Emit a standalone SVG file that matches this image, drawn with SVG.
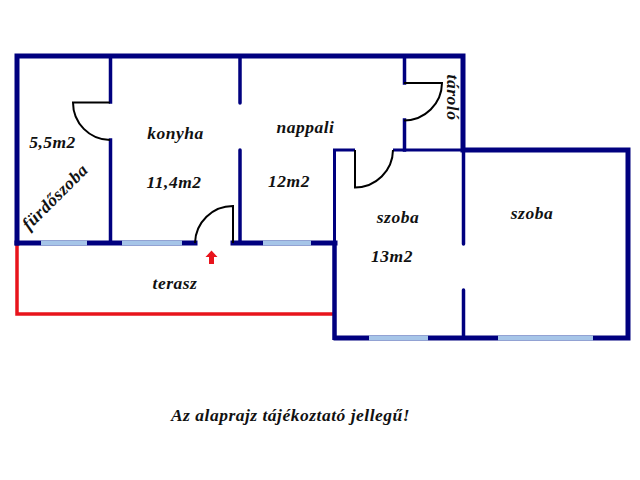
<svg xmlns="http://www.w3.org/2000/svg" width="640" height="480" viewBox="0 0 640 480">
<style>
.o{stroke:#00007f;stroke-width:5;fill:none;stroke-linecap:square}
.w{stroke:#00007f;stroke-width:3.5;fill:none;stroke-linecap:round}
.g{stroke:#a6c5e8;stroke-width:5;fill:none}
.d{stroke:#000;stroke-width:2;fill:none}
.r{stroke:#e8141c;stroke-width:3.5;fill:none;stroke-linecap:square}
text{font-family:"Liberation Serif",serif;font-weight:bold;font-style:italic;font-size:17.500px;fill:#111;text-anchor:middle;letter-spacing:.5px}
</style>
<rect width="640" height="480" fill="#fff"/>
<g id="connectors">
<path class="r" d="M17 245V314H333"/>
<path class="o" d="M17 243V56H463V150M463 150H628V338H336"/>
<path class="o" d="M17 243H195M233 243H335"/>
<path class="w" style="stroke-linecap:square" d="M110.500 56V102M110.500 140V243M404.500 56V83M404.500 120V150"/>
<path class="w" d="M240 56V103M240 150V243M463.500 150V244M463.500 290V338"/>
<path class="w" style="stroke-width:3;stroke-linecap:butt" d="M355 150H334.500V243M393 150H463"/>
<path class="w" style="stroke-width:4.500;stroke-linecap:butt" d="M334.500 243V340"/>
</g>
<g id="windows">
<path class="g" d="M41 243H87M122 243H182M263 243H311M369 338H428M498 338H593"/>
</g>
<g id="doors">
<path class="d" d="M110 102.500H73A37.500 37.500 0 0 0 110 140"/>
<path class="d" d="M404 83H442A38 38 0 0 1 404 120.500"/>
<path class="d" d="M355 150V187.500A38 38 0 0 0 393 150"/>
<path class="d" d="M233 243V206A38 38 0 0 0 195 243"/>
<polygon fill="#e8141c" points="211.500,250.500 217.500,257 214,257 214,264 209,264 209,257 205.500,257"/>
</g>
<g id="labels">
<text x="52.500" y="148">5,5m2</text>
<text x="175.500" y="139">konyha</text>
<text x="174" y="188">11,4m2</text>
<text x="305.500" y="133">nappali</text>
<text x="289" y="187">12m2</text>
<text x="398" y="223">szoba</text>
<text x="392" y="262">13m2</text>
<text x="532" y="219">szoba</text>
<text x="175" y="289">terasz</text>
<text transform="translate(59 201) rotate(-45)">fürdőszoba</text>
<text transform="translate(447 97.500) rotate(90)">tároló</text>
<text x="290.500" y="421">Az alaprajz tájékoztató jellegű!</text>
</g>
</svg>
